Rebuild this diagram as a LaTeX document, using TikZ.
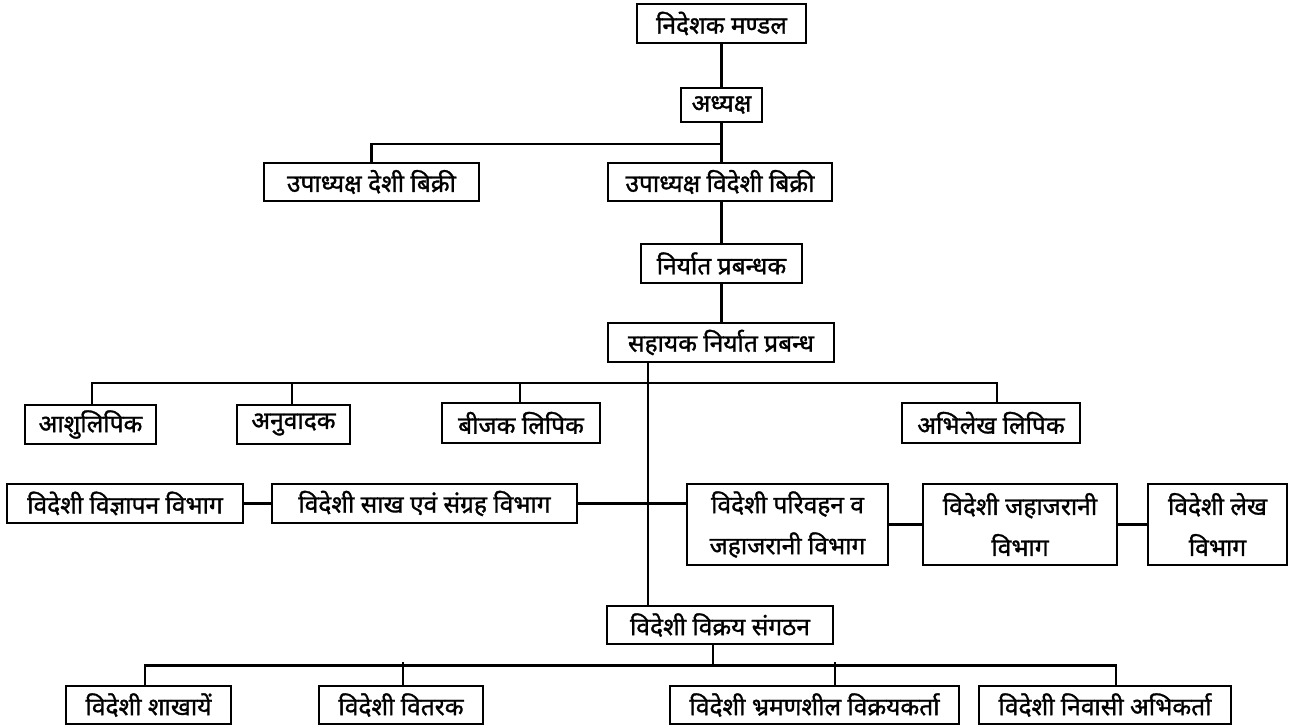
\documentclass[tikz,border=0pt]{standalone}
\usepackage{fontspec}
\newfontfamily\hindi[Script=Devanagari, FakeBold=1.2]{Noto Sans}
\tikzset{
  post/.style={draw, line width=2.6, inner sep=0, align=center, font=\hindi\fontsize{24.5}{41}\selectfont},
  link/.style={line width=2.4}
}
\begin{document}
\begin{tikzpicture}[x=1pt, y=-1pt]
	\useasboundingbox (0,0) rectangle (1289,727);
	
	% top of the chart
	\node [post, minimum width=169, minimum height=39] (board) at (721.5,23.5) {निदेशक मण्डल};
	\node [post, minimum width=81, minimum height=34] (chair) at (721.5,105) {अध्यक्ष};
	\node [post, minimum width=215, minimum height=38] (vphome) at (371.5,182) {उपाध्यक्ष देशी बिक्री};
	\node [post, minimum width=224, minimum height=38] (vpforeign) at (720,182) {उपाध्यक्ष विदेशी बिक्री};
	\node [post, minimum width=161, minimum height=39] (expmgr) at (721.5,263.5) {निर्यात प्रबन्धक};
	\node [post, minimum width=226, minimum height=39] (asstmgr) at (721,342.5) {सहायक निर्यात प्रबन्ध};
	
	\draw [link] (board) -- (chair);
	\draw [link] (chair.south) -- ++(0,21) coordinate (bar1) -| (vphome.north);
	\draw [link] (bar1) -- (bar1 |- vpforeign.north);
	\draw [link] (vpforeign.south -| bar1) -- (expmgr.north -| bar1);
	\draw [link] (expmgr.south -| bar1) -- (asstmgr.north -| bar1);
	
	% clerks
	\node [post, minimum width=131, minimum height=39] (steno) at (90.5,424.5) {आशुलिपिक};
	\node [post, minimum width=113, minimum height=39] (transl) at (293.5,424.5) {अनुवादक};
	\node [post, minimum width=158, minimum height=40] (invclerk) at (521,423) {बीजक लिपिक};
	\node [post, minimum width=178, minimum height=40] (recclerk) at (991,423) {अभिलेख लिपिक};
	
	\coordinate (bar2) at (648,383);
	\draw [link] ([xshift=1.5]steno.north) |- (bar2) -| ([xshift=6]recclerk.north);
	\draw [link] ([xshift=-1.5]transl.north) -- ++(0,-22);
	\draw [link] ([xshift=-1]invclerk.north) -- ++(0,-20);
	
	% departments
	\node [post, minimum width=236, minimum height=39] (advert) at (125,503.5) {विदेशी विज्ञापन विभाग};
	\node [post, minimum width=305, minimum height=39] (credit) at (424.5,503.5) {विदेशी साख एवं संग्रह विभाग};
	\node [post, minimum width=201, minimum height=81] (transport) at (787.5,524.5) {विदेशी परिवहन व\\ जहाजरानी विभाग};
	\node [post, minimum width=194, minimum height=81] (shipping) at (1020,524.5) {विदेशी जहाजरानी\\ विभाग};
	\node [post, minimum width=139, minimum height=81] (accounts) at (1217.5,524.5) {विदेशी लेख\\ विभाग};
	
	\draw [link] (advert) -- (credit);
	\draw [link] (credit.east) -- (credit.east -| transport.west);
	\draw [link] (transport) -- (shipping);
	\draw [link] (shipping) -- (accounts);
	
	% sales organisation
	\node [post, minimum width=226, minimum height=38] (salesorg) at (720,625) {विदेशी विक्रय संगठन};
	\draw [link] (asstmgr.south -| bar2) -- (salesorg.north -| bar2);
	
	\node [post, minimum width=165, minimum height=38] (branches) at (148.5,705) {विदेशी शाखायें};
	\node [post, minimum width=164, minimum height=38] (distrib) at (401,705) {विदेशी वितरक};
	\node [post, minimum width=289, minimum height=38] (travel) at (814.5,705) {विदेशी भ्रमणशील विक्रयकर्ता};
	\node [post, minimum width=252, minimum height=38] (resident) at (1105,705) {विदेशी निवासी अभिकर्ता};
	
	\draw [link] ([xshift=-7]salesorg.south) -- ++(0,20) coordinate (bar3);
	\draw [link] ([xshift=-3.5]branches.north) |- (bar3) -| ([xshift=11]resident.north);
	\draw [link] ([xshift=2]distrib.north) -- ++(0,-23);
	\draw [link] ([xshift=20.5]travel.north) -- ++(0,-23);
\end{tikzpicture}
\end{document}
